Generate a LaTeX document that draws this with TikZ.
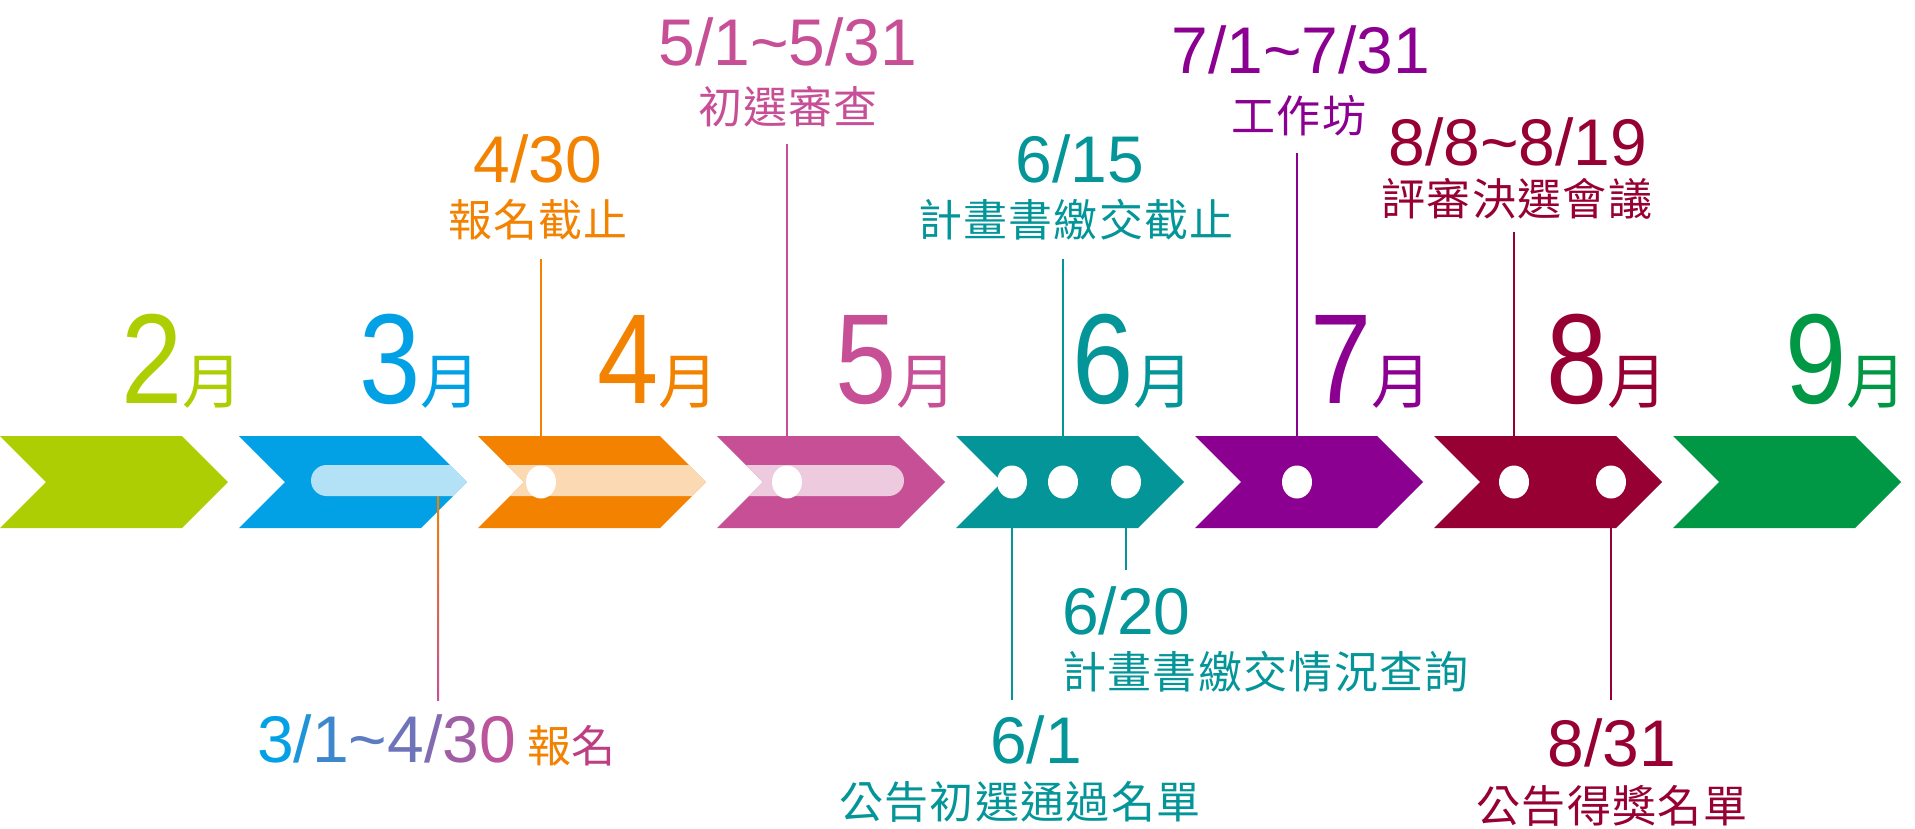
\documentclass[tikz,border=0pt]{standalone}
\usepackage{fontspec}
\setmainfont{Liberation Sans}
\newfontfamily\cjk[LetterSpace=3]{Noto Sans CJK TC}
\newfontfamily\bignum[FakeStretch=0.86]{Liberation Sans}
\usetikzlibrary{shapes.geometric}
\definecolor{mgreen}{HTML}{ADCE03}
\definecolor{mblue}{HTML}{02A0E4}
\definecolor{morange}{HTML}{F28200}
\definecolor{mpink}{HTML}{C74F96}
\definecolor{mteal}{HTML}{049599}
\definecolor{mpurple}{HTML}{8C0091}
\definecolor{mred}{HTML}{970033}
\definecolor{mgreenb}{HTML}{009844}
\begin{document}
\begin{tikzpicture}[x=1pt,y=-1pt,
 dot/.style={ellipse,fill=white,minimum width=30pt,minimum height=33pt,inner sep=0pt},
 month/.style={anchor=base west,inner sep=0pt,font=\bignum\fontsize{128}{128}\selectfont},
 date/.style={anchor=base,inner sep=0pt,font=\fontsize{66}{66}\selectfont},
 desc/.style={anchor=base,inner sep=0pt,font=\cjk\fontsize{44}{44}\selectfont},
 tick/.style={line width=2pt}]
 \useasboundingbox (0,0) rectangle (1915,828);
 \fill[mgreen] (0,436) -- ++(182,0) -- ++(46,46) -- ++(-46,46) -- ++(-182,0) -- ++(46,-46) -- cycle;
 \fill[mblue] (239,436) -- ++(182,0) -- ++(46,46) -- ++(-46,46) -- ++(-182,0) -- ++(46,-46) -- cycle;
 \fill[morange] (478,436) -- ++(182,0) -- ++(46,46) -- ++(-46,46) -- ++(-182,0) -- ++(46,-46) -- cycle;
 \fill[mpink] (717,436) -- ++(182,0) -- ++(46,46) -- ++(-46,46) -- ++(-182,0) -- ++(46,-46) -- cycle;
 \fill[mteal] (956,436) -- ++(182,0) -- ++(46,46) -- ++(-46,46) -- ++(-182,0) -- ++(46,-46) -- cycle;
 \fill[mpurple] (1195,436) -- ++(182,0) -- ++(46,46) -- ++(-46,46) -- ++(-182,0) -- ++(46,-46) -- cycle;
 \fill[mred] (1434,436) -- ++(182,0) -- ++(46,46) -- ++(-46,46) -- ++(-182,0) -- ++(46,-46) -- cycle;
 \fill[mgreenb] (1673,436) -- ++(182,0) -- ++(46,46) -- ++(-46,46) -- ++(-182,0) -- ++(46,-46) -- cycle;
 \begin{scope}
  \clip (239,436) -- ++(182,0) -- ++(46,46) -- ++(-46,46) -- ++(-182,0) -- ++(46,-46) -- cycle
        (478,436) -- ++(182,0) -- ++(46,46) -- ++(-46,46) -- ++(-182,0) -- ++(46,-46) -- cycle
        (717,436) -- ++(182,0) -- ++(46,46) -- ++(-46,46) -- ++(-182,0) -- ++(46,-46) -- cycle;
  \fill[white,opacity=0.7,rounded corners=15.5pt] (311,465) rectangle (904,496);
 \end{scope}
 \node[month,mgreen] (m2) at (121,403) {2{\cjk\fontsize{60}{60}\selectfont 月}};
 \node[month,mblue] (m3) at (359,403) {3{\cjk\fontsize{60}{60}\selectfont 月}};
 \node[month,morange] (m4) at (597,403) {4{\cjk\fontsize{60}{60}\selectfont 月}};
 \node[month,mpink] (m5) at (835,403) {5{\cjk\fontsize{60}{60}\selectfont 月}};
 \node[month,mteal] (m6) at (1072,403) {6{\cjk\fontsize{60}{60}\selectfont 月}};
 \node[month,mpurple] (m7) at (1310,403) {7{\cjk\fontsize{60}{60}\selectfont 月}};
 \node[month,mred] (m8) at (1546,403) {8{\cjk\fontsize{60}{60}\selectfont 月}};
 \node[month,mgreenb] (m9) at (1785,403) {9{\cjk\fontsize{60}{60}\selectfont 月}};
 \node[dot] (d430) at (541,482) {};
 \node[dot] (d51) at (787,482) {};
 \node[dot] (d61) at (1012,482) {};
 \node[dot] (d615) at (1063,482) {};
 \node[dot] (d620) at (1126,482) {};
 \node[dot] (d71) at (1297,482) {};
 \node[dot] (d88) at (1514,482) {};
 \node[dot] (d831) at (1611,482) {};
 \coordinate (e430) at (541,259);
 \coordinate (e51) at (787,144);
 \coordinate (e615) at (1063,259);
 \coordinate (e71) at (1297,153);
 \coordinate (e88) at (1514,232);
 \coordinate (s31) at (438,496);
 \coordinate (e31) at (438,700);
 \coordinate (e61) at (1012,700);
 \coordinate (e620) at (1126,570);
 \coordinate (e831) at (1611,700);
 \draw[tick,morange] (d430.north) -- (e430);
 \draw[tick,mpink] (d51.north) -- (e51);
 \draw[tick,mteal] (d615.north) -- (e615);
 \draw[tick,mpurple] (d71.north) -- (e71);
 \draw[tick,mred] (d88.north) -- (e88);
 \draw[tick,mteal] (d61.south) -- (e61);
 \draw[tick,mteal] (d620.south) -- (e620);
 \draw[tick,mred] (d831.south) -- (e831);
 \shade[top color=morange,bottom color=mpink] ([xshift=-1pt]s31) rectangle ([xshift=1pt]e31);
 \node[date,morange] (t430) at (538,182) {4/30};
 \node[desc,morange] (n430) at (538,236) {報名截止};
 \node[date,mpink] (t51) at (788,65) {5/1\textasciitilde5/31};
 \node[desc,mpink] (n51) at (788,123) {初選審查};
 \node[date,mteal] (t615) at (1080,182) {6/15};
 \node[desc,mteal] (n615) at (1076,236) {計畫書繳交截止};
 \node[date,mpurple] (t71) at (1301,73) {7/1\textasciitilde7/31};
 \node[desc,mpurple] (n71) at (1299,132) {工作坊};
 \node[date,mred] (t88) at (1518,165) {8/8\textasciitilde8/19};
 \node[desc,mred] (n88) at (1517,215) {評審決選會議};
 \node[date,anchor=base west] (t31) at (257,762) {\textcolor{mblue}{3}\textcolor{mblue!85!mpink}{/}\textcolor{mblue!70!mpink}{1}\textcolor{mblue!55!mpink}{\textasciitilde}\textcolor{mblue!45!mpink}{4}\textcolor{mblue!35!mpink}{/}\textcolor{mblue!20!mpink}{3}\textcolor{mblue!5!mpink}{0}\hspace{12pt}{\cjk\fontsize{44}{44}\selectfont\textcolor{morange}{報}\textcolor{mpink!80!mred}{名}}};
 \node[date,mteal] (t61) at (1036,763) {6/1};
 \node[desc,mteal] (n61) at (1020,818) {公告初選通過名單};
 \node[date,mteal,anchor=base west] (t620) at (1062,634) {6/20};
 \node[desc,mteal,anchor=base west] (n620) at (1062,688) {計畫書繳交情況查詢};
 \node[date,mred] (t831) at (1612,766) {8/31};
 \node[desc,mred] (n831) at (1612,822) {公告得獎名單};
\end{tikzpicture}
\end{document}
